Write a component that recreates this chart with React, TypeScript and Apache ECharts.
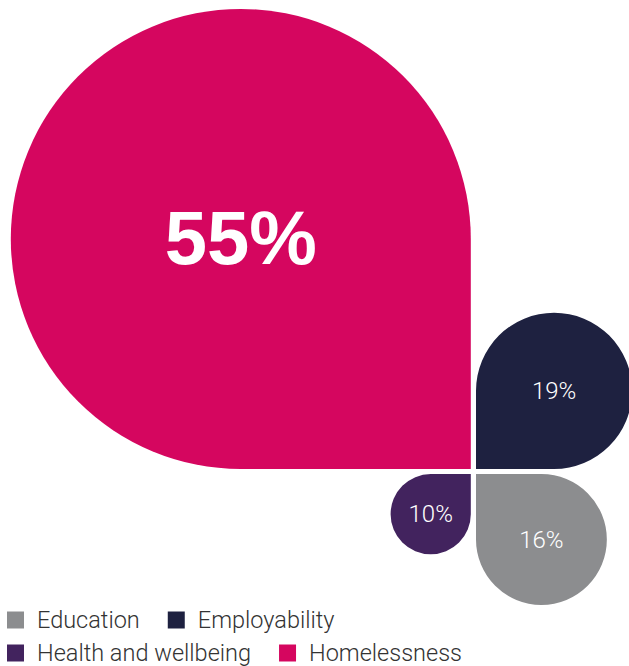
import React, { useEffect, useRef } from "react";
import * as echarts from "echarts";

const categories = ["Homelessness", "Employability", "Education", "Health and wellbeing"];
const values = [55, 19, 16, 10];
const valueLabels = ["55%", "19%", "16%", "10%"];
const colors = ["#D5065F", "#1E2140", "#8C8D8F", "#42235E"];
// quadrant direction of each petal relative to the shared centre
const quadrants: [number, number][] = [[-1, 1], [1, 1], [1, -1], [-1, -1]];
const legendRow1 = ["Education", "Employability"];
const legendRow2 = ["Health and wellbeing", "Homelessness"];

const W = 629;
const H = 666;
const CX = 473.4;
const CY = 471.5;
const K = 8.44; // px per percentage point
const TRIM = 4.2;
const GAP = 2.6;

export default function App() {
  const ref = useRef<HTMLDivElement>(null);
  useEffect(() => {
    if (!ref.current) return;
    const chart = echarts.init(ref.current, undefined, { renderer: "svg" });
    const series = categories.map((name, i) => ({
      type: "custom",
      name,
      itemStyle: { color: colors[i] },
      clip: false,
      encode: { x: 0, y: 1 },
      data: [[quadrants[i][0], quadrants[i][1], values[i]]],
      renderItem: (params: any, api: any) => {
        const qx = api.value(0);
        const qy = api.value(1);
        const v = api.value(2);
        const c = api.coord([0, 0]);
        const s = api.size([v, v])[0] - TRIM;
        const x = qx < 0 ? c[0] - GAP - s : c[0] + GAP;
        const y = qy > 0 ? c[1] - GAP - s : c[1] + GAP;
        const h = s / 2;
        let r: number[];
        if (qx < 0 && qy > 0) r = [h, h, 0, h];
        else if (qx > 0 && qy > 0) r = [h, h, h, 0];
        else if (qx > 0 && qy < 0) r = [0, h, h, h];
        else r = [h, 0, h, h];
        const big = i === 0;
        return {
          type: "group",
          children: [
            {
              type: "rect",
              shape: { x, y, width: s, height: s, r },
              style: { fill: colors[i] },
            },
            {
              type: "text",
              x: x + s / 2,
              y: y + s / 2 + (big ? -1 : 0),
              style: {
                text: valueLabels[i],
                fill: "#ffffff",
                fontSize: big ? 76 : 24,
                fontWeight: big ? "bold" : 300,
                fontFamily: big ? "Liberation Sans" : "Roboto",
                align: "center",
                verticalAlign: "middle",
              },
            },
          ],
        };
      },
    }));
    const legendBase = {
      left: 7,
      orient: "horizontal",
      icon: "rect",
      itemWidth: 17,
      itemHeight: 17,
      itemGap: 28,
      padding: 0,
      selectedMode: false,
      textStyle: {
        fontSize: 23.5,
        fontFamily: "Roboto",
        fontWeight: 300,
        color: "#333333",
        padding: [0, 0, 0, 8],
      },
    };
    chart.setOption({
      animation: false,
      grid: { left: 0, right: 0, top: 0, bottom: 0 },
      xAxis: {
        type: "value",
        min: -CX / K,
        max: (W - CX) / K,
        show: false,
      },
      yAxis: {
        type: "value",
        min: -(H - CY) / K,
        max: CY / K,
        show: false,
      },
      legend: [
        { ...legendBase, top: 608, data: legendRow1 },
        { ...legendBase, top: 641, data: legendRow2 },
      ],
      series,
    });
    return () => chart.dispose();
  }, []);
  return (
    <div
      ref={ref}
      style={{ position: "absolute", left: 0, top: 0, width: W, height: H }}
    />
  );
}
